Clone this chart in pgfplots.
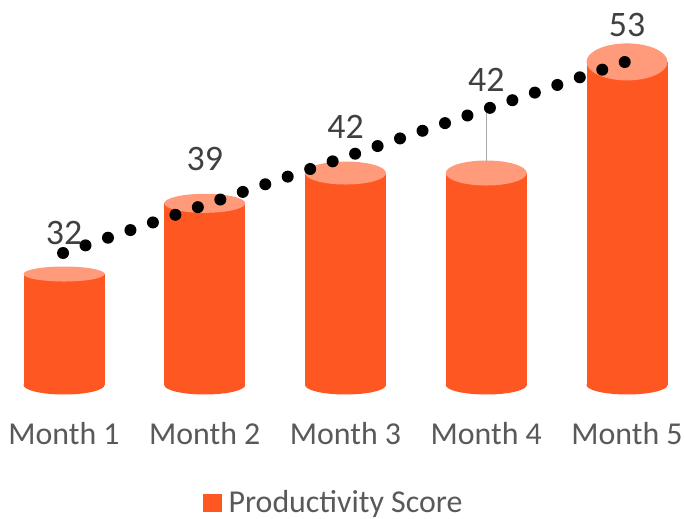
\documentclass[border=0pt]{standalone}
\usepackage{fontspec}
\setmainfont{Carlito}
\usepackage{pgfplots}
\pgfplotsset{compat=1.18}
\usepackage{pgfplotstable}
\definecolor{sidecol}{HTML}{FF5722}
\definecolor{topcol}{HTML}{FF9A7A}
\definecolor{labcol}{HTML}{404040}
\definecolor{axcol}{HTML}{595959}
\definecolor{leadcol}{HTML}{A6A6A6}

\pgfplotstableread{
x y ry
1 32 7.5
2 39 9.5
3 42 11.5
4 42 12.5
5 53 18.5
}\bars
\pgfplotstableread{
x ly lab
1 36.06 32
2 43.39 39
3 46.56 42
4 51.21 42
5 56.66 53
}\labels

\pgfdeclareplotmark{cyl}{%
  \pgfmathsetmacro\hb{(\yv-21.21)*10.1+2}%
  \pgfpathellipse{\pgfpoint{0bp}{-\hb bp}}{\pgfpoint{40.5bp}{0bp}}{\pgfpoint{0bp}{9.5bp}}%
  \pgfsetfillcolor{sidecol}\pgfusepath{fill}%
  \pgfpathrectangle{\pgfpoint{-40.5bp}{-\hb bp}}{\pgfpoint{81bp}{\hb bp}}%
  \pgfsetfillcolor{sidecol}\pgfusepath{fill}%
  \pgfpathellipse{\pgfpointorigin}{\pgfpoint{40.5bp}{0bp}}{\pgfpoint{0bp}{\ry bp}}%
  \pgfsetfillcolor{topcol}\pgfusepath{fill}%
}

\begin{document}
\begin{tikzpicture}
\begin{axis}[
  set layers=standard,
  at={(0,136bp)}, anchor=south west,
  width=684bp, height=383bp, scale only axis,
  xmin=0.545, xmax=5.405, ymin=21.21, ymax=59.13,
  clip=false,
  axis line style={draw=none}, tick style={draw=none},
  ytick=\empty, xtick={1,2,3,4,5},
  xticklabels={Month 1,Month 2,Month 3,Month 4,Month 5},
  xticklabel style={font=\fontsize{32}{38}\selectfont, text=axcol, anchor=base, yshift=-62bp},
  legend style={draw=none, fill=none, inner sep=0pt, at={(0.2968,-0.312)}, anchor=west,
    font=\fontsize{32}{38}\selectfont, text=axcol, legend cell align=left,
    /tikz/every odd column/.append style={column sep=5bp}},
]
% cylinders
\addplot[forget plot, scatter, only marks, mark=cyl,
  visualization depends on={\thisrow{ry} \as \ry},
  visualization depends on={\thisrow{y} \as \yv},
  scatter/@pre marker code/.code={},
  scatter/@post marker code/.code={},
] table[x=x, y=y] {\bars};
% leader line
\addplot[forget plot, on layer=axis foreground, leadcol, line width=1.2bp] coordinates {(4,48.57) (4,43.22)};
% trendline
\addplot[forget plot, on layer=axis foreground, black, line width=12bp, line cap=round, dash pattern=on 0bp off 23.73bp]
  coordinates {(0.993,34.08) (5.018,53.15)};
% data labels
\addplot[forget plot, on layer=axis foreground, draw=none, mark=none, nodes near coords, point meta=explicit symbolic,
  nodes near coords style={font=\fontsize{36}{43}\selectfont, text=labcol, anchor=center, inner sep=0pt}]
  table[x=x, y=ly, meta=lab] {\labels};
\addlegendimage{legend image code/.code={\fill[sidecol] (0bp,-8.5bp) rectangle (18bp,8.5bp);}}
\addlegendentry{Productivity Score}
\end{axis}
\pgfresetboundingbox
\path (0,0) rectangle (684bp,519bp);
\end{tikzpicture}
\end{document}
